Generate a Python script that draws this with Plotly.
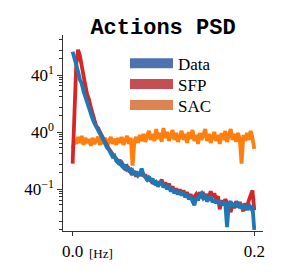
import numpy as np
import plotly.graph_objects as go

freq = np.linspace(0.0, 0.2, 101)

data_psd = [179, 122, 73, 50, 30, 23.3, 14.0, 9.5, 6.5, 5.0,
            3.4, 2.34, 1.81, 1.40, 1.16, 0.956, 0.741, 0.612, 0.445, 0.367,
            0.323, 0.250, 0.207, 0.220, 0.160, 0.141, 0.171, 0.116, 0.102, 0.124,
            0.0902, 0.0961, 0.0745, 0.0846, 0.0656, 0.0794, 0.0615, 0.0699, 0.0961, 0.0656,
            0.0541, 0.0476, 0.0577, 0.0419, 0.0508, 0.0346, 0.0393, 0.0305, 0.0369, 0.0419,
            0.0286, 0.0346, 0.0252, 0.0325, 0.0221, 0.0268, 0.0195, 0.0236, 0.0183, 0.0221,
            0.0171, 0.0208, 0.0151, 0.0183, 0.0133, 0.0161, 0.0117, 0.00906, 0.0151, 0.0125,
            0.0171, 0.0195, 0.0142, 0.0161, 0.0117, 0.0142, 0.0161, 0.0110, 0.0133, 0.0103,
            0.0125, 0.00966, 0.0117, 0.00906, 0.0110, 0.00222, 0.00966, 0.0117, 0.00850, 0.0103,
            0.00797, 0.0110, 0.00748, 0.00966, 0.00702, 0.00906, 0.00658, 0.00966, 0.00748, 0.00850,
            0.00184]

sfp_psd = [0.132, 4.4, 78, 204, 139, 73, 34, 20.5, 11.5, 8.4,
           5.0, 3.0, 2.19, 1.50, 1.32, 1.02, 0.790, 0.652, 0.505, 0.417,
           0.344, 0.284, 0.235, 0.207, 0.182, 0.160, 0.132, 0.141, 0.109, 0.0961,
           0.109, 0.0846, 0.0902, 0.0699, 0.0745, 0.0577, 0.0745, 0.0615, 0.0846, 0.0577,
           0.0656, 0.0447, 0.0541, 0.0476, 0.0369, 0.0447, 0.0325, 0.0419, 0.0346, 0.0476,
           0.0325, 0.0393, 0.0286, 0.0369, 0.0252, 0.0305, 0.0221, 0.0268, 0.0195, 0.0252,
           0.0183, 0.0236, 0.0171, 0.0208, 0.0151, 0.0183, 0.0133, 0.0161, 0.0183, 0.0142,
           0.0208, 0.0161, 0.0183, 0.0133, 0.0183, 0.0151, 0.0221, 0.0151, 0.0195, 0.0133,
           0.0161, 0.00702, 0.0125, 0.00966, 0.0133, 0.0110, 0.00850, 0.00579, 0.0103, 0.00748,
           0.0117, 0.00906, 0.0110, 0.00850, 0.00618, 0.0103, 0.00797, 0.0125, 0.0183, 0.0236,
           0.00658]

sac_psd = [0.344, 0.612, 0.474, 0.741, 0.505, 0.790, 0.445, 0.695, 0.505, 0.652,
           0.417, 0.695, 0.474, 0.612, 0.741, 0.445, 0.652, 0.474, 0.695, 0.417,
           0.612, 0.741, 0.474, 0.652, 0.445, 0.695, 0.505, 0.741, 0.445, 0.652,
           0.790, 0.474, 0.695, 0.116, 0.574, 0.741, 0.505, 0.842, 0.574, 0.897,
           0.539, 0.790, 1.09, 0.612, 0.897, 0.574, 1.23, 0.652, 0.956, 0.539,
           1.32, 0.695, 1.02, 0.574, 0.897, 1.16, 0.612, 0.956, 0.539, 0.842,
           1.09, 0.612, 0.897, 0.505, 1.02, 0.652, 1.16, 0.574, 0.842, 0.474,
           0.956, 0.612, 0.842, 1.23, 0.574, 0.897, 0.505, 0.790, 1.02, 0.574,
           0.842, 0.474, 0.956, 0.612, 1.09, 0.539, 0.842, 1.23, 0.612, 0.897,
           0.539, 0.956, 0.652, 0.132, 0.842, 0.574, 0.956, 0.612, 1.09, 0.695,
           0.344]

series_names = ["Data", "SFP", "SAC"]
line_colors = {"Data": "#1f77b4", "SFP": "#d62728", "SAC": "#ff7f0e"}
legend_colors = {"Data": "#4c72b0", "SFP": "#c44e52", "SAC": "#dd8452"}

x_tickvals = [0.0, 0.2]
x_ticktext = ["0.0", "0.2"]
y_tickvals = [40 ** -1, 40 ** 0, 40 ** 1]
y_ticktext = ["40<sup>\u22121</sup>", "40<sup>0</sup>", "40<sup>1</sup>"]
y_minor_subs = [3, 5, 10, 15, 20, 25, 30, 35]
y_minor = [k * 40.0 ** n for n in range(-2, 2) for k in y_minor_subs]

serif = "Liberation Serif, DejaVu Serif, serif"
axis_col = "#333333"

fig = go.Figure()
series = {"Data": data_psd, "SFP": sfp_psd, "SAC": sac_psd}
for name in ["SAC", "SFP", "Data"]:
    fig.add_trace(go.Scatter(x=freq, y=series[name], mode="lines",
                             line=dict(color=line_colors[name], width=3.8),
                             showlegend=False, hoverinfo="skip"))

legend_ids = ["legend", "legend2", "legend3"]
row_y = [0.8535, 0.7475, 0.641]
for name, lid in zip(series_names, legend_ids):
    fig.add_trace(go.Scatter(x=[None], y=[None], mode="lines", name=name, legend=lid,
                             line=dict(color=legend_colors[name], width=10)))

legend_style = dict(x=0.31, xanchor="left", yanchor="middle", itemwidth=43,
                    bgcolor="rgba(0,0,0,0)", borderwidth=0,
                    font=dict(family=serif, size=17, color="black"))

fig.update_layout(
    width=297, height=273,
    margin=dict(l=63, r=34, t=35, b=40),
    paper_bgcolor="white", plot_bgcolor="white",
    title=dict(text="<b>Actions PSD</b>", x=0.5, xref="paper", xanchor="center",
               y=1 - 26 / 273, yref="container", yanchor="middle",
               font=dict(family="Liberation Mono, DejaVu Sans Mono, monospace",
                         size=22, color="black")),
    font=dict(family=serif, size=17, color="black"),
    legend=dict(y=row_y[0], **legend_style),
    legend2=dict(y=row_y[1], **legend_style),
    legend3=dict(y=row_y[2], **legend_style),
    showlegend=True,
)
fig.update_xaxes(range=[-0.0106, 0.2096], showgrid=False, zeroline=False,
                 showline=True, linecolor=axis_col, linewidth=1.2,
                 ticks="outside", ticklen=4, tickwidth=1, tickcolor=axis_col,
                 tickvals=x_tickvals, ticktext=x_ticktext,
                 tickfont=dict(family=serif, size=17, color="black"))
fig.update_yaxes(type="log", range=[-2.764, 2.724], showgrid=False, zeroline=False,
                 showline=True, linecolor=axis_col, linewidth=1.2,
                 ticks="outside", ticklen=4.5, tickwidth=1, tickcolor=axis_col,
                 tickvals=y_tickvals, ticktext=y_ticktext,
                 tickfont=dict(family=serif, size=17, color="black"),
                 minor=dict(tickvals=y_minor, ticks="outside", ticklen=2.5,
                            tickwidth=0.8, tickcolor=axis_col, showgrid=False))
fig.add_annotation(text="[Hz]", x=0.0, xref="x", xanchor="left", xshift=14,
                   y=0, yref="paper", yanchor="middle", yshift=-22,
                   showarrow=False, font=dict(family=serif, size=13, color="black"))

fig.write_html("out.html", config={"displayModeBar": False},
               post_script="document.body.style.margin='0px';")
